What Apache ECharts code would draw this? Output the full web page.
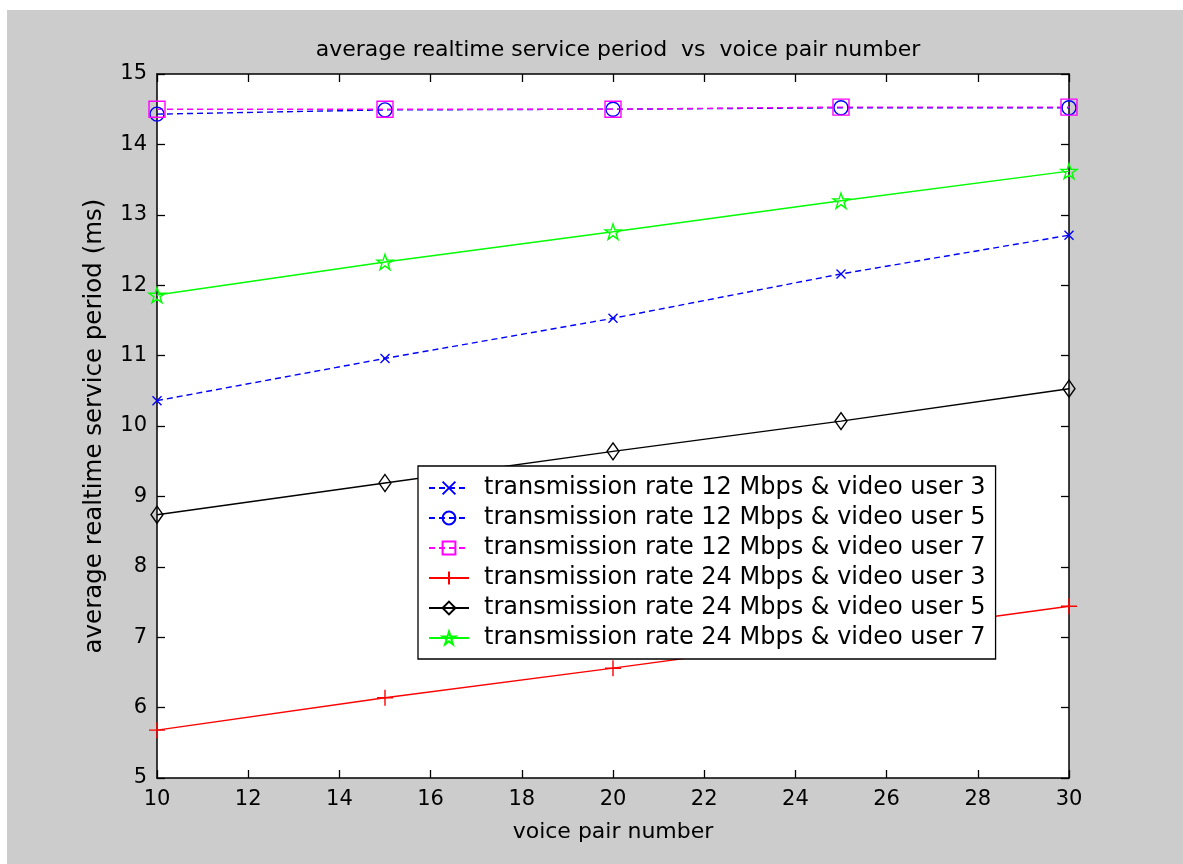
<!DOCTYPE html>
<html>
<head>
<meta charset="utf-8">
<script src="https://cdn.jsdelivr.net/npm/echarts@6/dist/echarts.min.js"></script>
<style>
  body { margin: 0; background: #fff; }
  #frame { position: absolute; left: 7px; top: 10px; width: 1176px; height: 854px; background: #cccccc; }
  #main { position: absolute; left: 0; top: 0; width: 1183px; height: 864px; }
</style>
</head>
<body>
<div id="frame"></div>
<div id="main"></div>
<script>
// voice pair number
var voicePairs = [10, 15, 20, 25, 30];
// average realtime service period (ms)
var rate12user3 = [10.36, 10.96, 11.53, 12.16, 12.71];
var rate12user5 = [14.43, 14.49, 14.50, 14.52, 14.52];
var rate12user7 = [14.50, 14.50, 14.50, 14.53, 14.53];
var rate24user3 = [5.68, 6.14, 6.56, 7.00, 7.44];
var rate24user5 = [8.74, 9.19, 9.64, 10.07, 10.53];
var rate24user7 = [11.86, 12.33, 12.76, 13.20, 13.62];

var seriesNames = [
  "transmission rate 12 Mbps & video user 3",
  "transmission rate 12 Mbps & video user 5",
  "transmission rate 12 Mbps & video user 7",
  "transmission rate 24 Mbps & video user 3",
  "transmission rate 24 Mbps & video user 5",
  "transmission rate 24 Mbps & video user 7"
];

var chart = echarts.init(document.getElementById("main"));
var font = "DejaVu Sans";

// matlab-ish markers
var mkX = "path://M0,0 L100,100 M100,0 L0,100";
var mkPlus = "path://M50,0 L50,100 M0,50 L100,50";
var mkCircle = "path://M100,50 A50,50 0 1,1 0,50 A50,50 0 1,1 100,50 Z";
var mkSquare = "path://M0,0 L100,0 L100,100 L0,100 Z";
var mkDiamond = "path://M50,0 L100,50 L50,100 L0,50 Z";
var mkStar = "path://M100,0 L122.45,69.1 L195.1,69.1 L136.3,111.8 L158.8,180.9 L100,138.2 L41.2,180.9 L63.7,111.8 L4.9,69.1 L77.55,69.1 Z";

function pairs(vals) {
  return voicePairs.map(function (x, i) { return [x, vals[i]]; });
}

function line(name, vals, color, dashed, symbol, size) {
  return {
    name: name,
    type: "line",
    data: pairs(vals),
    symbol: symbol,
    symbolSize: size,
    symbolKeepAspect: true,
    clip: false,
    lineStyle: { color: color, width: 1.4, type: dashed ? [6, 4] : "solid" },
    itemStyle: { color: "transparent", borderColor: color, borderWidth: 1.4 },
    emphasis: { disabled: true },
    animation: false
  };
}

var tickStyle = { show: true, inside: true, length: 8, lineStyle: { color: "#000", width: 1.3 } };
var axLine = { show: true, lineStyle: { color: "#000", width: 1.5 } };

var option = {
  animation: false,
  title: {
    text: "average realtime service period  vs  voice pair number",
    left: 613,
    textAlign: "center",
    top: 34,
    textStyle: { fontFamily: font, fontSize: 22, fontWeight: "normal", color: "#000" }
  },
  grid: {
    left: 157, top: 74, width: 912, height: 704,
    show: true, backgroundColor: "#fff", borderWidth: 0
  },
  legend: {
    orient: "vertical",
    left: 418,
    top: 466,
    padding: [10, 10, 9, 10],
    backgroundColor: "#fff",
    borderColor: "#000",
    borderWidth: 1.3,
    borderRadius: 0,
    itemWidth: 40,
    itemHeight: 16,
    itemGap: 6,
    textStyle: { fontFamily: font, fontSize: 24, color: "#000", lineHeight: 24, padding: [0, 0, 0, 10] },
    data: seriesNames
  },
  xAxis: [{
    type: "value", min: 10, max: 30, interval: 2,
    name: "voice pair number", nameLocation: "middle", nameGap: 43,
    nameTextStyle: { fontFamily: font, fontSize: 22, color: "#000" },
    axisLine: axLine, axisTick: tickStyle,
    axisLabel: { fontFamily: font, fontSize: 21, color: "#000", margin: 11 },
    splitLine: { show: false }
  }, {
    type: "value", min: 10, max: 30, interval: 2, position: "top",
    axisLine: axLine, axisTick: tickStyle, axisLabel: { show: false }, splitLine: { show: false }
  }],
  yAxis: [{
    type: "value", min: 5, max: 15, interval: 1,
    name: "average realtime service period (ms)", nameLocation: "middle", nameGap: 50,
    nameTextStyle: { fontFamily: font, fontSize: 24.5, color: "#000" },
    axisLine: axLine, axisTick: tickStyle,
    axisLabel: { fontFamily: font, fontSize: 21, color: "#000", margin: 10 },
    splitLine: { show: false }
  }, {
    type: "value", min: 5, max: 15, interval: 1, position: "right",
    axisLine: axLine, axisTick: tickStyle, axisLabel: { show: false }, splitLine: { show: false }
  }],
  series: [
    line(seriesNames[0], rate12user3, "#0000ff", true, mkX, 9),
    line(seriesNames[1], rate12user5, "#0000ff", true, mkCircle, 14),
    line(seriesNames[2], rate12user7, "#ff00ff", true, mkSquare, 16),
    line(seriesNames[3], rate24user3, "#ff0000", false, mkPlus, 16),
    line(seriesNames[4], rate24user5, "#000000", false, mkDiamond, [12, 17]),
    line(seriesNames[5], rate24user7, "#00ff00", false, mkStar, 16)
  ]
};
// diamond is taller than wide
option.series[4].symbolKeepAspect = false;

chart.setOption(option);
</script>
</body>
</html>
